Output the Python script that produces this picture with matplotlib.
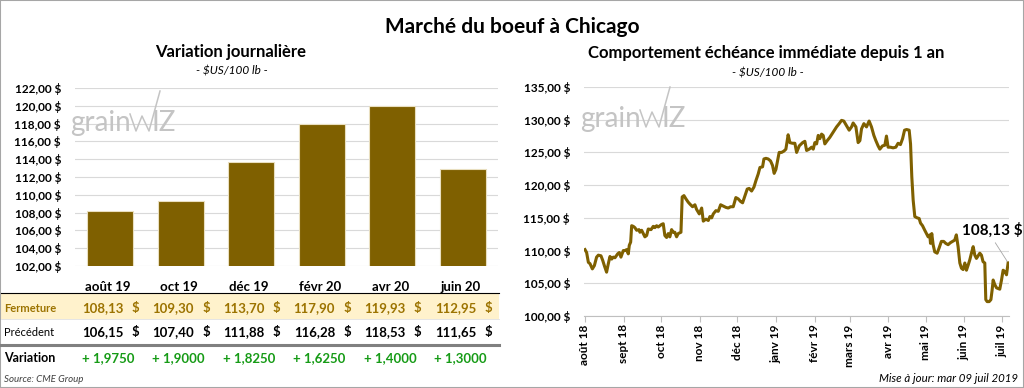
import matplotlib.pyplot as plt
import matplotlib.transforms as mtransforms
from matplotlib.patches import Rectangle
from matplotlib.lines import Line2D
import numpy as np
import pandas as pd

plt.rcParams['font.family'] = ['Lato', 'DejaVu Sans']
plt.rcParams['text.parse_math'] = False

# contrats (graphique de gauche)
echeances = ['août 19', 'oct 19', 'déc 19', 'févr 20', 'avr 20', 'juin 20']
fermeture = [108.13, 109.30, 113.70, 117.90, 119.93, 112.95]
precedent = [106.15, 107.40, 111.88, 116.28, 118.53, 111.65]
variation = [1.9750, 1.9000, 1.8250, 1.6250, 1.4000, 1.3000]

# echeance immediate sur 1 an (graphique de droite)
mois = ['août 18', 'sept 18', 'oct 18', 'nov 18', 'déc 18', 'janv 19',
        'févr 19', 'mars 19', 'avr 19', 'mai 19', 'juin 19', 'juil 19']
debut = '2018-08-01'
# jours depuis le 1er aout 2018
jours = [0, 1.3, 2.7, 4, 5.9, 7.5, 9.3, 10.7, 12.8, 14.2,
         15.5, 17.3, 18.7, 20, 21.4, 22.7, 24, 26.2, 27.5, 28.8,
         30.7, 32, 33.4, 34.7, 35.5, 36.6, 37.4, 38.7, 40, 41.4,
         43.3, 44, 45.4, 46.7, 48, 49.4, 50.7, 52.9, 54.7, 56,
         57.4, 58.7, 60, 61.4, 62.7, 64, 65.4, 66.7, 68, 69.4,
         70.7, 72, 73.4, 74.7, 76.9, 77.9, 79.3, 80.9, 82.7,
         84.1, 86.2, 88.1, 89.4, 91.6, 93.5, 94.8, 96.9, 98.8, 100.1,
         101.5, 102.8, 104.9, 106.8, 108.7, 110.8, 112.9, 114.8, 116.7, 118.8,
         120.9, 122.8, 124.7, 126.3, 128.2, 130, 131.6, 133.5, 135.4, 137,
         138.8, 140.2, 142.3, 143.4, 145, 146.8, 148.7, 150.3, 151.6, 153,
         154.3, 155.6, 157.5, 159.4, 161, 162.8, 164.2, 166.3, 168.2, 169.6,
         171.7,
         174.4, 176.2, 177.6, 179.7, 181.6, 182.9, 184.2, 185.6, 186.9, 188.2,
         189.6, 190.9, 192.2, 194.1, 196.2, 198.9, 201.6, 203.7, 205.6, 207.4,
         209.6, 211.7, 213.6, 214.9, 217.1, 218.9, 220.3, 221.6, 223.5, 225.6,
         227.7, 229.6, 231.5, 233.1, 234.9, 236.3,
         238.4, 240.3, 241.6, 242.9, 244.8, 246.9, 249.1, 250.9, 252.8, 254.5,
         256.1, 257.7, 259.8, 260.9, 261.9, 263, 264.3, 266.2, 267.8, 268.9,
         270.5, 272.3, 273.7, 275, 276.3, 276.9, 277.9, 279, 280.3, 282.2,
         283.8, 285.6, 287.5, 289.1, 291, 292.8, 294.5, 296.3, 297.6, 299,
         300.4, 301.7, 303, 304.4, 305.7, 307.1, 308.4, 309.7, 311.1, 312.4,
         313.7, 315.1, 316.4, 317.7, 319, 320.4, 321.2, 322.3, 323.9, 325.3,
         326.3, 327.1, 328.4, 329.8, 331.1, 332.4, 333.8, 335.1, 336.4, 337.8,
         339.1]
cours = [110.15, 109.7, 108.2, 108, 107.2, 107.7, 109, 109.3, 109.2, 108.5,
         107.7, 106.7, 108, 109.1, 108.7, 109, 108.9, 109.5, 109.7, 109,
         110, 110, 110.15, 109.5, 110.8, 111.3, 113.8, 113.7, 113.5, 113.1,
         113.2, 112.8, 113.1, 112.6, 112.1, 112.3, 113.3, 113.2, 113.7, 113.5,
         113.8, 113.6, 113.8, 114, 114.1, 112.3, 112, 112.6, 112.1, 113.2,
         112.8, 112.8, 112.1, 112.6, 112.8, 118.2, 118.4, 117.9, 117.4,
         117.1, 116.7, 117, 116.3, 115.6, 116.5, 114.5, 114.8, 114.6, 115.2,
         115, 115.6, 116.1, 116, 117, 116.8, 116.6, 116.5, 116.7, 116.7,
         118.1, 117.9, 117.5, 117.3, 118.4, 119.4, 119.5, 119.1, 119.7, 120.7,
         121.7, 122.7, 122.8, 124, 124.1, 124, 123.7, 123, 121.8, 122.4,
         123.7, 125, 125, 125.2, 125.5, 127.7, 126.5, 126.4, 126.4, 125,
         126,
         126.5, 126.7, 125.3, 125.5, 125.8, 125.5, 126.5, 126.3, 127.6, 127.1,
         127.8, 127.6, 126.3, 126.8, 127.3, 128.1, 128.9, 129.4, 129.9, 129.8,
         129.1, 128.4, 128.9, 129.5, 128.9, 126.5, 126.8, 128.6, 129.4, 128.9,
         129.8, 128.9, 127.6, 126.8, 126, 125.5,
         126, 126.1, 127.5, 125.8, 125.8, 125.7, 125.8, 126.4, 126.2, 127.1,
         128.4, 128.5, 128.4, 126.3, 121.3, 117.7, 115.2, 115, 114.9, 114.2,
         113.8, 113.1, 112.6, 112.1, 112.4, 111.1, 112.6, 110.9, 109.8, 109.6,
         110.4, 111.4, 111.4, 111.1, 110.9, 111.2, 111.4, 111.6, 112.4, 110.6,
         108.1, 107.3, 107.1, 108.1, 107, 107.8, 108.6, 109.6, 110.6, 109.3,
         108.8, 109.2, 109.6, 109.3, 108.3, 108.1, 102.5, 102.2, 102.2, 102.5,
         104, 105.5, 104.8, 104.3, 104.2, 104.1, 105.5, 107, 106.8, 106.3,
         108.13]


def fr(v, nd=2):
    return f"{v:.{nd}f}".replace('.', ',')


W, H = 1024, 388
fig = plt.figure(figsize=(W / 100, H / 100), dpi=100)


def fx(x):
    return x / W


def fy(y):
    return 1 - y / H


gold = '#7F6000'
gridc = '#D9D9D9'
watermark = '#C4C4C4'


def logo(x0, y0):
    # filigrane grainWIZ
    fig.text(fx(x0), fy(y0), 'grain', color=watermark, fontsize=20,
             va='baseline')
    xs = [x0 + 60, x0 + 66, x0 + 72, x0 + 79, x0 + 90]
    ys = [y0 - 17, y0, y0 - 15, y0, y0 - 40]
    fig.add_artist(Line2D([fx(v) for v in xs], [fy(v) for v in ys],
                          color=watermark, lw=1.1))
    fig.text(fx(x0 + 82), fy(y0), 'IZ', color=watermark, fontsize=20,
             va='baseline')


fig.text(0.5, fy(27), 'Marché du boeuf à Chicago', ha='center', va='center',
         fontsize=15, fontweight='bold')

# ---- barres
ax1 = fig.add_axes([fx(75), fy(266), fx(498) - fx(75), fy(88) - fy(266)])
x = np.arange(len(echeances))
ax1.bar(x, fermeture, width=0.65, color=gold, edgecolor='#E9DFC0', lw=0.8,
        zorder=3)
ax1.set_xlim(-0.5, len(echeances) - 0.5)
ax1.set_ylim(102, 122)
yt = np.arange(102, 123, 2)
ax1.set_yticks(yt)
ax1.set_yticklabels([fr(v) + ' $' for v in yt], fontsize=8.5,
                    fontweight='bold')
ax1.set_xticks([])
ax1.tick_params(axis='y', length=0, pad=10)
ax1.grid(axis='y', color=gridc, lw=0.8)
for s in ax1.spines.values():
    s.set_visible(False)

fig.text(fx(231), fy(52), 'Variation journalière', ha='center', va='center',
         fontsize=12, fontweight='bold')
fig.text(fx(232), fy(71), '- $US/100 lb -', ha='center', va='center',
         fontsize=8.5, style='italic')
logo(70, 131)

# ---- tableau
tr = mtransforms.blended_transform_factory(ax1.transData, fig.transFigure)
fig.add_artist(Rectangle((fx(1), fy(319)), fx(498), fy(293) - fy(319),
                         transform=fig.transFigure, facecolor='#FFF2CC',
                         edgecolor='none', zorder=0))
fig.add_artist(Line2D([fx(1), fx(499)], [fy(293)] * 2, color='black', lw=0.8))
fig.add_artist(Line2D([fx(1), fx(499)], [fy(319)] * 2, color='#E0E0E0', lw=0.6))
fig.add_artist(Line2D([fx(1), fx(499)], [fy(345)] * 2, color='#808080', lw=2.2))

ferm_c = '#9C7300'
fig.text(fx(4), fy(308), 'Fermeture', color=ferm_c, fontsize=8,
         fontweight='bold', va='center')
fig.text(fx(4), fy(332), 'Précédent', fontsize=8, va='center')
fig.text(fx(4), fy(358), 'Variation', fontsize=9, fontweight='bold',
         va='center')

for i in range(len(echeances)):
    fig.text(i - 0.03, fy(287), echeances[i], transform=tr, ha='center',
             va='center', fontsize=9.5, fontweight='bold')
    fig.text(i + 0.19, fy(308), fr(fermeture[i]), transform=tr, ha='right',
             va='center', fontsize=9.5, fontweight='bold', color=ferm_c)
    fig.text(i + 0.36, fy(308), '$', transform=tr, ha='center',
             va='center', fontsize=9.5, fontweight='bold', color=ferm_c)
    fig.text(i + 0.19, fy(332), fr(precedent[i]), transform=tr, ha='right',
             va='center', fontsize=9.5, fontweight='bold')
    fig.text(i + 0.36, fy(332), '$', transform=tr, ha='center',
             va='center', fontsize=9.5, fontweight='bold')
    fig.text(i - 0.03, fy(358), '+ ' + fr(variation[i], 4), transform=tr,
             ha='center', va='center', fontsize=9.5, fontweight='bold',
             color='#169B16')

fig.text(fx(4), fy(380), 'Source: CME Group', fontsize=7, style='italic',
         color='#404040', va='center')

# ---- courbe
ax2 = fig.add_axes([fx(584), fy(316), fx(1009) - fx(584), fy(87) - fy(316)])
t0 = pd.Timestamp(debut)
dates = t0 + pd.to_timedelta(jours, unit='D')
ax2.plot(dates, cours, color=gold, lw=2.2, zorder=3)
ax2.set_ylim(100, 135)
yt2 = np.arange(100, 136, 5)
ax2.set_yticks(yt2)
ax2.set_yticklabels([fr(v) + ' $' for v in yt2], fontsize=8.5,
                    fontweight='bold')
ax2.set_xlim(t0 - pd.Timedelta(days=0.8), t0 + pd.Timedelta(days=339.8))
mt = pd.date_range(debut, periods=len(mois), freq='MS')
ax2.set_xticks(mt)
ax2.set_xticklabels(mois, rotation=90, fontsize=8.5, fontweight='bold')
ax2.tick_params(axis='y', length=0, pad=10)
ax2.tick_params(axis='x', length=4, color='#BFBFBF', pad=2)
ax2.grid(axis='y', color=gridc, lw=0.8)
for k in ['top', 'right', 'left']:
    ax2.spines[k].set_visible(False)
ax2.spines['bottom'].set_color('#BFBFBF')

ax2.annotate(fr(cours[-1]) + ' $', xy=(dates[-1], cours[-1]),
             xytext=(fx(992), fy(230)), textcoords='figure fraction',
             ha='center', va='center', fontsize=11, fontweight='bold',
             arrowprops=dict(arrowstyle='-', color='#A6A6A6', lw=0.6,
                             relpos=(0.5, 0), shrinkA=2, shrinkB=1))

fig.text(fx(766), fy(53), 'Comportement échéance immédiate depuis 1 an',
         ha='center', va='center', fontsize=12, fontweight='bold')
fig.text(fx(768), fy(73), '- $US/100 lb -', ha='center', va='center',
         fontsize=8.5, style='italic')
logo(580, 127)

fig.text(fx(1018), fy(379), 'Mise à jour: mar 09 juil 2019', ha='right',
         va='center', fontsize=8.3, style='italic')

fig.add_artist(Rectangle((0, 0), 1, 1, transform=fig.transFigure, fill=False,
                         edgecolor='#A6A6A6', lw=1.5))

fig.savefig('out.png', dpi=100)
